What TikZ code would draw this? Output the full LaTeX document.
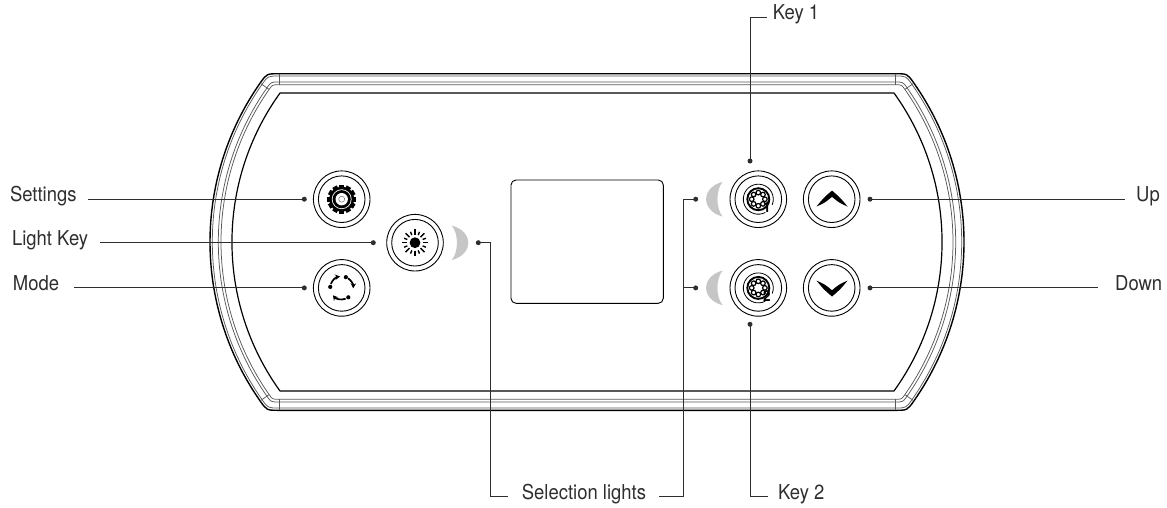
\documentclass[tikz,border=0pt]{standalone}
\usepackage{fontspec}
\setmainfont{TeX Gyre Heros}[FakeStretch=0.9]
\usetikzlibrary{calc,arrows.meta}
\definecolor{txt}{HTML}{2E2E2E}
\definecolor{cres}{HTML}{C6C6C6}
\begin{document}
\begin{tikzpicture}[x=1pt,y=-1pt,
  lbl/.style={text=txt,font=\fontsize{20.5}{24}\selectfont,inner sep=0pt},
  conn/.style={draw=txt,line width=0.9pt},
  dotc/.style={circle,fill=txt,inner sep=0pt,minimum size=5pt},
  btn/.style={circle,draw=black,line width=0.9pt,inner sep=0pt,minimum size=56.6pt},
  ring/.style={draw=black,line width=0.9pt},
  band/.style={draw=black!65,line width=0.75pt},
  crescent/.style={fill=cres},
  numb/.style={font=\bfseries\fontsize{15}{15}\selectfont,inner sep=0pt}]
\useasboundingbox (0,0) rectangle (1167,507);

% ---------- frame (band of four lines) ----------
\foreach \d/\w/\c in {0/1.4/black, 2.3/0.75/black!65, 8.3/0.75/black!65, 11/0.75/black!65} {
  \pgfmathsetmacro\R{277-\d}
  \pgfmathsetmacro\yt{73.7+\d}
  \pgfmathsetmacro\yb{410.3-\d}
  \pgfmathsetmacro\tt{(168.3-\d-0.57358*\R)/0.81915}
  \pgfmathsetmacro\px{487-0.81915*\R}
  \pgfmathsetmacro\py{242-0.57358*\R}
  \pgfmathsetmacro\cx{\px+0.57358*\tt}
  \pgfmathsetmacro\qx{1174-\px}
  \pgfmathsetmacro\dx{1174-\cx}
  \pgfmathsetmacro\pyb{484-\py}
  \draw[line width=\w pt, draw=\c] (279,\yt) -- (895,\yt) .. controls (\dx,\yt) .. (\qx,\py)
    arc[start angle=-35, end angle=35, radius=\R] .. controls (\dx,\yb) .. (895,\yb)
    -- (279,\yb) .. controls (\cx,\yb) .. (\px,\pyb)
    arc[start angle=145, end angle=215, radius=\R] .. controls (\cx,\yt) .. cycle;
}
\foreach \x in {279,895} {
  \draw[band] (\x,73.7) -- (\x,84.7);
  \draw[band] (\x,399.3) -- (\x,410.3);
}
\coordinate (cl) at (487,242);
\coordinate (cr) at (687,242);
\draw[band] ($(cl)+(215:277)$) -- ($(cl)+(215:266)$);
\draw[band] ($(cl)+(145:277)$) -- ($(cl)+(145:266)$);
\draw[band] ($(cr)+(-35:277)$) -- ($(cr)+(-35:266)$);
\draw[band] ($(cr)+(35:277)$) -- ($(cr)+(35:266)$);
% inner outline
\draw[line width=1.2pt, line join=round] (280,93) -- (894,93)
  arc[start angle=-35.75, end angle=35.75, radius=255] -- (280,391)
  arc[start angle=144.25, end angle=215.75, radius=255] -- cycle;

% ---------- display ----------
\node[draw=black, line width=0.9pt, rounded corners=5pt, minimum width=152.3pt,
      minimum height=123.3pt, inner sep=0pt] (disp) at (587.15,241.65) {};

% ---------- buttons ----------
\node[btn] (bSet)   at (341.7,199.2) {};
\node[btn] (bLight) at (415,242.7) {};
\node[btn] (bMode)  at (341.7,287.9) {};
\node[btn] (bK1)    at (758.3,199.2) {};
\node[btn] (bK2)    at (758.3,287.9) {};
\node[btn] (bUp)    at (831.7,199.2) {};
\node[btn] (bDown)  at (831.7,287.9) {};
\foreach \b in {bSet,bLight,bMode,bK1,bK2,bUp,bDown}
  \draw[ring] (\b) circle[radius=23.3];

% settings gear
\fill (bSet) circle[radius=12.6];
\foreach \a in {0,30,...,330}
  \draw[line width=5pt] ($(bSet)+(\a:10)$) -- ($(bSet)+(\a:14.5)$);
\fill[white] (bSet) circle[radius=9.9];
\fill (bSet) circle[radius=9.1];
\fill[white] (bSet) circle[radius=6.2];
\draw[black!55, line width=0.5pt] (bSet) circle[radius=3];

% light (sun)
\fill (bLight) circle[radius=5.4];
\foreach \a in {0,45,...,315}
  \draw[line width=1.4pt] ($(bLight)+(\a:7.8)$) -- ($(bLight)+(\a:13.3)$);
\foreach \a in {22.5,67.5,...,337.5}
  \draw[line width=1.4pt] ($(bLight)+(\a:8.3)$) -- ($(bLight)+(\a:11.8)$);

% mode (circular arrows)
\foreach \s/\e in {200/262, 303/362, 70/140}
  \draw[line width=1.7pt, -{Stealth[length=5pt,width=5.5pt]}]
    ($(bMode)+(\s:11.5)$) arc[start angle=\s, end angle=\e, radius=11.5];
\foreach \a in {185,291,55}
  \fill ($(bMode)+(\a:11.5)$) circle[radius=2.1];

% key 1 / key 2 icons
\foreach \k/\n in {bK1/1,bK2/2} {
  \draw[line width=0.8pt] ($(\k)+(62:15)$) arc[start angle=62, end angle=382, radius=15];
  \draw[line width=1.9pt] (\k) circle[radius=11];
  \foreach \a in {0,45,...,315}
    \draw[line width=1.2pt] ($(\k)+(\a:6.6)$) circle[radius=2.3];
  \node[numb] at ($(\k)+(8.6,7.8)$) {\n};
}

% up / down chevrons
\begin{scope}[shift={(bUp)}]
  \fill (-15.2,7.3) .. controls (-8,-1.5) .. (0.3,-8.6) .. controls (8.6,-1.5) .. (15.8,7.3)
    .. controls (7.5,3.6) .. (0.3,-2.4) .. controls (-6.9,3.6) .. cycle;
\end{scope}
\begin{scope}[shift={(bDown)}, yscale=-1]
  \fill (-15.2,7.3) .. controls (-8,-1.5) .. (0.3,-8.6) .. controls (8.6,-1.5) .. (15.8,7.3)
    .. controls (7.5,3.6) .. (0.3,-2.4) .. controls (-6.9,3.6) .. cycle;
\end{scope}

% ---------- selection-light crescents ----------
\begin{scope}[shift={(451.7,242.8)}]
  \fill[crescent] (0,-17.2) .. controls (22.1,-11.5) and (22.1,11.5) .. (0,17.2)
    .. controls (7,9.5) and (7,-9.5) .. cycle;
\end{scope}
\foreach \yy in {199.2,287.9} {
  \begin{scope}[shift={(722.7,\yy)}, xscale=-1]
    \fill[crescent] (0,-17.4) .. controls (22.1,-11.5) and (22.1,11.5) .. (0,17.4)
      .. controls (7,9.5) and (7,-9.5) .. cycle;
  \end{scope}
}

% ---------- dots ----------
\node[dotc] (dSet)   at (304.3,199.2) {};
\node[dotc] (dLight) at (373.3,242.7) {};
\node[dotc] (dMode)  at (304.3,287.9) {};
\node[dotc] (dLc)    at (478.3,242.7) {};
\node[dotc] (dK1c)   at (695.7,199.2) {};
\node[dotc] (dK2c)   at (695.7,287.9) {};
\node[dotc] (dK1)    at (750,161) {};
\node[dotc] (dK2)    at (750,324.3) {};
\node[dotc] (dUp)    at (870,199.2) {};
\node[dotc] (dDown)  at (870,287.9) {};

% ---------- labels ----------
\node[lbl, anchor=mid east] (tSet)   at (76.7,199.2) {Settings};
\node[lbl, anchor=mid east] (tLight) at (88.3,242.7) {Light Key};
\node[lbl, anchor=mid east] (tMode)  at (59.3,287.9) {Mode};
\node[lbl, anchor=mid west] (tUp)    at (1136,199.2) {Up};
\node[lbl, anchor=mid west] (tDown)  at (1115,287.9) {Down};
\node[lbl, anchor=mid west] (tK1)    at (772.7,17.3) {Key 1};
\node[lbl, anchor=mid west] (tK2)    at (778,496.7) {Key 2};
\node[lbl, anchor=mid west] (tSel)   at (521.7,496.7) {Selection lights};

% ---------- connectors ----------
\coordinate (cL1) at (490,242.7);
\coordinate (cL2) at (490,496.7);
\coordinate (cR1) at (683.3,199.2);
\coordinate (cR2) at (683.3,287.9);
\coordinate (cR3) at (683.3,496.7);
\coordinate (cK1) at (750,17.3);
\coordinate (cK2) at (750,496.7);

\draw[conn] ([xshift=11pt]tSet.mid east) -- (dSet.center);
\draw[conn] ([xshift=11.7pt]tLight.mid east) -- (dLight.center);
\draw[conn] ([xshift=15pt]tMode.mid east) -- (dMode.center);
\draw[conn] (dUp.center) -- ([xshift=-11pt]tUp.mid west);
\draw[conn] (dDown.center) -- ([xshift=-16.7pt]tDown.mid west);
\draw[conn] (dK1.center) -- (cK1) -- ([xshift=-6pt]tK1.mid west);
\draw[conn] (dK2.center) -- (cK2) -- ([xshift=-9.7pt]tK2.mid west);
\draw[conn] (dLc.center) -- (cL1) -- (cL2) -- ([xshift=-13.7pt]tSel.mid west);
\draw[conn] (dK1c.center) -- (cR1) -- (cR3) -- ([xshift=13.3pt]tSel.mid east);
\draw[conn] (dK2c.center) -- (cR2);
\end{tikzpicture}
\end{document}
